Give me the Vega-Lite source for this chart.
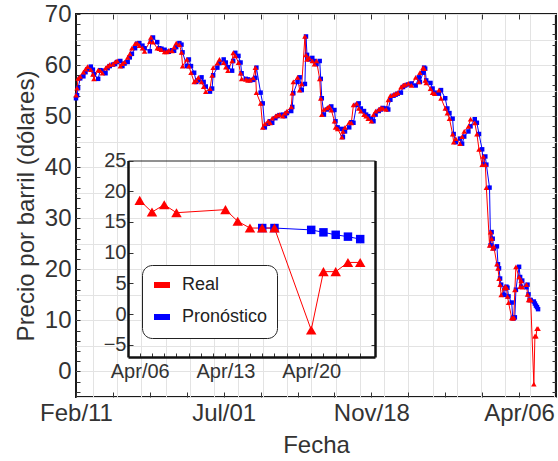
{
"$schema": "https://vega.github.io/schema/vega-lite/v6.json",
"width": 480, "height": 383,
"autosize": "none",
"padding": {"left": 76, "top": 14, "right": 2, "bottom": 64},
"background": "white",
"config": {
 "view": {"stroke": "#1a1a1a", "strokeWidth": 2},
 "font": "Liberation Sans",
 "axis": {"labelFont": "Liberation Sans", "titleFont": "Liberation Sans", "labelColor": "#333333", "titleColor": "#333333", "titleFontWeight": "normal", "tickColor": "#333333", "domainColor": "#1a1a1a", "gridColor": "#e3e3e3", "gridWidth": 1, "labelOverlap": false, "labelBound": false, "labelFlush": false}
},
"datasets": {
 "real": [
  {"fecha":"2019-02-11","precio":54.1},{"fecha":"2019-02-12","precio":55.5},{"fecha":"2019-02-13","precio":57.4},{"fecha":"2019-02-15","precio":57.8},{"fecha":"2019-02-18","precio":58.6},{"fecha":"2019-02-20","precio":59.2},{"fecha":"2019-02-22","precio":59.7},{"fecha":"2019-02-25","precio":59.1},{"fecha":"2019-02-27","precio":58.2},{"fecha":"2019-02-28","precio":57.3},
  {"fecha":"2019-03-04","precio":59.0},{"fecha":"2019-03-06","precio":58.9},{"fecha":"2019-03-08","precio":58.4},{"fecha":"2019-03-11","precio":59.4},{"fecha":"2019-03-13","precio":59.8},{"fecha":"2019-03-15","precio":60.1},{"fecha":"2019-03-18","precio":60.2},{"fecha":"2019-03-20","precio":60.6},{"fecha":"2019-03-22","precio":60.8},{"fecha":"2019-03-25","precio":59.8},{"fecha":"2019-03-27","precio":60.3},{"fecha":"2019-03-29","precio":60.6},
  {"fecha":"2019-04-01","precio":61.5},{"fecha":"2019-04-03","precio":62.2},{"fecha":"2019-04-05","precio":63.3},{"fecha":"2019-04-08","precio":64.2},{"fecha":"2019-04-10","precio":64.3},{"fecha":"2019-04-12","precio":63.8},{"fecha":"2019-04-15","precio":63.3},{"fecha":"2019-04-17","precio":62.7},{"fecha":"2019-04-22","precio":64.6},{"fecha":"2019-04-23","precio":65.4},{"fecha":"2019-04-25","precio":64.5},{"fecha":"2019-04-29","precio":63.3},
  {"fecha":"2019-05-01","precio":63.2},{"fecha":"2019-05-03","precio":63.0},{"fecha":"2019-05-06","precio":62.6},{"fecha":"2019-05-08","precio":62.6},{"fecha":"2019-05-10","precio":62.9},{"fecha":"2019-05-13","precio":62.8},{"fecha":"2019-05-15","precio":63.5},{"fecha":"2019-05-17","precio":64.3},{"fecha":"2019-05-20","precio":64.0},{"fecha":"2019-05-22","precio":62.5},{"fecha":"2019-05-23","precio":59.8},{"fecha":"2019-05-27","precio":61.1},{"fecha":"2019-05-29","precio":59.8},{"fecha":"2019-05-31","precio":58.5},
  {"fecha":"2019-06-03","precio":56.7},{"fecha":"2019-06-05","precio":57.0},{"fecha":"2019-06-07","precio":57.6},{"fecha":"2019-06-10","precio":56.7},{"fecha":"2019-06-12","precio":55.8},{"fecha":"2019-06-14","precio":54.8},{"fecha":"2019-06-18","precio":55.4},{"fecha":"2019-06-20","precio":58.0},{"fecha":"2019-06-21","precio":59.5},{"fecha":"2019-06-25","precio":60.4},{"fecha":"2019-06-27","precio":61.1},
  {"fecha":"2019-07-01","precio":60.5},{"fecha":"2019-07-03","precio":59.6},{"fecha":"2019-07-05","precio":58.9},{"fecha":"2019-07-09","precio":60.8},{"fecha":"2019-07-10","precio":62.4},{"fecha":"2019-07-12","precio":61.8},{"fecha":"2019-07-15","precio":60.5},{"fecha":"2019-07-17","precio":58.4},{"fecha":"2019-07-18","precio":57.3},{"fecha":"2019-07-22","precio":57.2},{"fecha":"2019-07-24","precio":57.0},{"fecha":"2019-07-26","precio":57.1},{"fecha":"2019-07-29","precio":57.5},{"fecha":"2019-07-31","precio":59.5},
  {"fecha":"2019-08-01","precio":54.6},{"fecha":"2019-08-05","precio":52.5},{"fecha":"2019-08-07","precio":47.8},{"fecha":"2019-08-09","precio":48.5},{"fecha":"2019-08-12","precio":49.0},{"fecha":"2019-08-14","precio":48.7},{"fecha":"2019-08-16","precio":49.6},{"fecha":"2019-08-19","precio":50.0},{"fecha":"2019-08-21","precio":50.2},{"fecha":"2019-08-23","precio":50.3},{"fecha":"2019-08-26","precio":50.0},{"fecha":"2019-08-28","precio":50.6},{"fecha":"2019-08-30","precio":51.0},
  {"fecha":"2019-09-03","precio":51.8},{"fecha":"2019-09-04","precio":54.5},{"fecha":"2019-09-05","precio":56.7},{"fecha":"2019-09-09","precio":57.6},{"fecha":"2019-09-11","precio":55.1},{"fecha":"2019-09-13","precio":56.3},{"fecha":"2019-09-16","precio":65.6},{"fecha":"2019-09-17","precio":62.0},{"fecha":"2019-09-18","precio":61.1},{"fecha":"2019-09-20","precio":61.4},{"fecha":"2019-09-23","precio":60.8},{"fecha":"2019-09-25","precio":60.2},{"fecha":"2019-09-27","precio":60.8},{"fecha":"2019-09-30","precio":57.3},
  {"fecha":"2019-10-01","precio":53.5},{"fecha":"2019-10-02","precio":50.3},{"fecha":"2019-10-04","precio":51.3},{"fecha":"2019-10-07","precio":51.6},{"fecha":"2019-10-09","precio":51.9},{"fecha":"2019-10-11","precio":51.2},{"fecha":"2019-10-14","precio":49.0},{"fecha":"2019-10-15","precio":47.8},{"fecha":"2019-10-17","precio":47.5},{"fecha":"2019-10-21","precio":45.9},{"fecha":"2019-10-22","precio":47.0},{"fecha":"2019-10-24","precio":47.8},{"fecha":"2019-10-28","precio":48.8},{"fecha":"2019-10-30","precio":48.7},
  {"fecha":"2019-11-01","precio":52.2},{"fecha":"2019-11-04","precio":52.5},{"fecha":"2019-11-06","precio":51.5},{"fecha":"2019-11-08","precio":51.0},{"fecha":"2019-11-11","precio":50.3},{"fecha":"2019-11-13","precio":50.0},{"fecha":"2019-11-15","precio":49.5},{"fecha":"2019-11-18","precio":49.0},{"fecha":"2019-11-20","precio":50.3},{"fecha":"2019-11-22","precio":51.0},{"fecha":"2019-11-25","precio":51.3},{"fecha":"2019-11-27","precio":51.6},{"fecha":"2019-11-29","precio":51.5},
  {"fecha":"2019-12-02","precio":51.3},{"fecha":"2019-12-04","precio":53.2},{"fecha":"2019-12-06","precio":54.0},{"fecha":"2019-12-09","precio":54.2},{"fecha":"2019-12-11","precio":54.4},{"fecha":"2019-12-13","precio":54.6},{"fecha":"2019-12-16","precio":55.7},{"fecha":"2019-12-18","precio":56.0},{"fecha":"2019-12-20","precio":56.2},{"fecha":"2019-12-23","precio":56.4},{"fecha":"2019-12-26","precio":56.0},{"fecha":"2019-12-30","precio":57.6},
  {"fecha":"2020-01-02","precio":56.7},{"fecha":"2020-01-03","precio":58.5},{"fecha":"2020-01-06","precio":59.5},{"fecha":"2020-01-07","precio":59.3},{"fecha":"2020-01-08","precio":57.0},{"fecha":"2020-01-09","precio":56.5},{"fecha":"2020-01-13","precio":55.4},{"fecha":"2020-01-15","precio":54.6},{"fecha":"2020-01-17","precio":54.4},{"fecha":"2020-01-21","precio":55.1},{"fecha":"2020-01-23","precio":53.5},{"fecha":"2020-01-27","precio":51.5},{"fecha":"2020-01-29","precio":50.6},{"fecha":"2020-01-31","precio":49.5},
  {"fecha":"2020-02-03","precio":46.5},{"fecha":"2020-02-04","precio":44.9},{"fecha":"2020-02-06","precio":45.6},{"fecha":"2020-02-10","precio":44.6},{"fecha":"2020-02-12","precio":46.0},{"fecha":"2020-02-14","precio":47.0},{"fecha":"2020-02-18","precio":48.0},{"fecha":"2020-02-20","precio":49.4},{"fecha":"2020-02-24","precio":48.7},{"fecha":"2020-02-26","precio":46.5},{"fecha":"2020-02-28","precio":43.5},
  {"fecha":"2020-03-02","precio":40.5},{"fecha":"2020-03-03","precio":42.1},{"fecha":"2020-03-05","precio":40.5},{"fecha":"2020-03-06","precio":36.0},{"fecha":"2020-03-09","precio":24.7},{"fecha":"2020-03-10","precio":27.3},{"fecha":"2020-03-11","precio":26.0},{"fecha":"2020-03-12","precio":24.1},{"fecha":"2020-03-13","precio":24.5},{"fecha":"2020-03-16","precio":21.0},{"fecha":"2020-03-17","precio":20.2},{"fecha":"2020-03-18","precio":18.2},{"fecha":"2020-03-19","precio":17.0},{"fecha":"2020-03-20","precio":15.0},{"fecha":"2020-03-23","precio":16.3},{"fecha":"2020-03-24","precio":16.6},{"fecha":"2020-03-25","precio":16.4},{"fecha":"2020-03-26","precio":14.7},{"fecha":"2020-03-27","precio":13.5},{"fecha":"2020-03-30","precio":10.5},{"fecha":"2020-03-31","precio":10.4},
  {"fecha":"2020-04-01","precio":10.6},{"fecha":"2020-04-02","precio":16.0},{"fecha":"2020-04-03","precio":20.5},{"fecha":"2020-04-06","precio":18.5},{"fecha":"2020-04-07","precio":16.6},{"fecha":"2020-04-08","precio":17.8},{"fecha":"2020-04-09","precio":16.5},{"fecha":"2020-04-13","precio":17.0},{"fecha":"2020-04-14","precio":15.1},{"fecha":"2020-04-15","precio":14.0},{"fecha":"2020-04-16","precio":14.0},{"fecha":"2020-04-17","precio":14.0},{"fecha":"2020-04-20","precio":-2.5},{"fecha":"2020-04-21","precio":6.9},{"fecha":"2020-04-22","precio":6.9},{"fecha":"2020-04-23","precio":8.4},{"fecha":"2020-04-24","precio":8.4}
 ],
 "pron": [
  {"fecha":"2019-02-11","precio":53.5},{"fecha":"2019-02-12","precio":54.1},{"fecha":"2019-02-13","precio":55.5},{"fecha":"2019-02-15","precio":57.4},{"fecha":"2019-02-18","precio":57.8},{"fecha":"2019-02-20","precio":58.6},{"fecha":"2019-02-22","precio":59.2},{"fecha":"2019-02-25","precio":59.7},{"fecha":"2019-02-27","precio":59.1},{"fecha":"2019-02-28","precio":58.2},
  {"fecha":"2019-03-04","precio":57.3},{"fecha":"2019-03-06","precio":59.0},{"fecha":"2019-03-08","precio":58.9},{"fecha":"2019-03-11","precio":58.4},{"fecha":"2019-03-13","precio":59.4},{"fecha":"2019-03-15","precio":59.8},{"fecha":"2019-03-18","precio":60.1},{"fecha":"2019-03-20","precio":60.2},{"fecha":"2019-03-22","precio":60.6},{"fecha":"2019-03-25","precio":60.8},{"fecha":"2019-03-27","precio":59.8},{"fecha":"2019-03-29","precio":60.3},
  {"fecha":"2019-04-01","precio":60.6},{"fecha":"2019-04-03","precio":61.5},{"fecha":"2019-04-05","precio":62.2},{"fecha":"2019-04-08","precio":63.3},{"fecha":"2019-04-10","precio":64.2},{"fecha":"2019-04-12","precio":64.3},{"fecha":"2019-04-15","precio":63.8},{"fecha":"2019-04-17","precio":63.3},{"fecha":"2019-04-22","precio":62.7},{"fecha":"2019-04-23","precio":64.6},{"fecha":"2019-04-25","precio":65.4},{"fecha":"2019-04-29","precio":64.5},
  {"fecha":"2019-05-01","precio":63.3},{"fecha":"2019-05-03","precio":63.2},{"fecha":"2019-05-06","precio":63.0},{"fecha":"2019-05-08","precio":62.6},{"fecha":"2019-05-10","precio":62.6},{"fecha":"2019-05-13","precio":62.9},{"fecha":"2019-05-15","precio":62.8},{"fecha":"2019-05-17","precio":63.5},{"fecha":"2019-05-20","precio":64.3},{"fecha":"2019-05-22","precio":64.0},{"fecha":"2019-05-23","precio":62.5},{"fecha":"2019-05-27","precio":59.8},{"fecha":"2019-05-29","precio":61.1},{"fecha":"2019-05-31","precio":59.8},
  {"fecha":"2019-06-03","precio":58.5},{"fecha":"2019-06-05","precio":56.7},{"fecha":"2019-06-07","precio":57.0},{"fecha":"2019-06-10","precio":57.6},{"fecha":"2019-06-12","precio":56.7},{"fecha":"2019-06-14","precio":55.8},{"fecha":"2019-06-18","precio":54.8},{"fecha":"2019-06-20","precio":55.4},{"fecha":"2019-06-21","precio":58.0},{"fecha":"2019-06-25","precio":59.5},{"fecha":"2019-06-27","precio":60.4},
  {"fecha":"2019-07-01","precio":61.1},{"fecha":"2019-07-03","precio":60.5},{"fecha":"2019-07-05","precio":59.6},{"fecha":"2019-07-09","precio":58.9},{"fecha":"2019-07-10","precio":60.8},{"fecha":"2019-07-12","precio":62.4},{"fecha":"2019-07-15","precio":61.8},{"fecha":"2019-07-17","precio":60.5},{"fecha":"2019-07-18","precio":58.4},{"fecha":"2019-07-22","precio":57.3},{"fecha":"2019-07-24","precio":57.2},{"fecha":"2019-07-26","precio":57.0},{"fecha":"2019-07-29","precio":57.1},{"fecha":"2019-07-31","precio":57.5},
  {"fecha":"2019-08-01","precio":59.5},{"fecha":"2019-08-05","precio":54.6},{"fecha":"2019-08-07","precio":52.5},{"fecha":"2019-08-09","precio":47.8},{"fecha":"2019-08-12","precio":48.5},{"fecha":"2019-08-14","precio":49.0},{"fecha":"2019-08-16","precio":48.7},{"fecha":"2019-08-19","precio":49.6},{"fecha":"2019-08-21","precio":50.0},{"fecha":"2019-08-23","precio":50.2},{"fecha":"2019-08-26","precio":50.3},{"fecha":"2019-08-28","precio":50.0},{"fecha":"2019-08-30","precio":50.6},
  {"fecha":"2019-09-03","precio":51.0},{"fecha":"2019-09-04","precio":51.8},{"fecha":"2019-09-05","precio":54.5},{"fecha":"2019-09-09","precio":56.7},{"fecha":"2019-09-11","precio":57.6},{"fecha":"2019-09-13","precio":55.1},{"fecha":"2019-09-16","precio":56.3},{"fecha":"2019-09-17","precio":65.6},{"fecha":"2019-09-18","precio":62.0},{"fecha":"2019-09-20","precio":61.1},{"fecha":"2019-09-23","precio":61.4},{"fecha":"2019-09-25","precio":60.8},{"fecha":"2019-09-27","precio":60.2},{"fecha":"2019-09-30","precio":60.8},
  {"fecha":"2019-10-01","precio":57.3},{"fecha":"2019-10-02","precio":53.5},{"fecha":"2019-10-04","precio":50.3},{"fecha":"2019-10-07","precio":51.3},{"fecha":"2019-10-09","precio":51.6},{"fecha":"2019-10-11","precio":51.9},{"fecha":"2019-10-14","precio":51.2},{"fecha":"2019-10-15","precio":49.0},{"fecha":"2019-10-17","precio":47.8},{"fecha":"2019-10-21","precio":47.5},{"fecha":"2019-10-22","precio":45.9},{"fecha":"2019-10-24","precio":47.0},{"fecha":"2019-10-28","precio":47.8},{"fecha":"2019-10-30","precio":48.8},
  {"fecha":"2019-11-01","precio":48.7},{"fecha":"2019-11-04","precio":52.2},{"fecha":"2019-11-06","precio":52.5},{"fecha":"2019-11-08","precio":51.5},{"fecha":"2019-11-11","precio":51.0},{"fecha":"2019-11-13","precio":50.3},{"fecha":"2019-11-15","precio":50.0},{"fecha":"2019-11-18","precio":49.5},{"fecha":"2019-11-20","precio":49.0},{"fecha":"2019-11-22","precio":50.3},{"fecha":"2019-11-25","precio":51.0},{"fecha":"2019-11-27","precio":51.3},{"fecha":"2019-11-29","precio":51.6},
  {"fecha":"2019-12-02","precio":51.5},{"fecha":"2019-12-04","precio":51.3},{"fecha":"2019-12-06","precio":53.2},{"fecha":"2019-12-09","precio":54.0},{"fecha":"2019-12-11","precio":54.2},{"fecha":"2019-12-13","precio":54.4},{"fecha":"2019-12-16","precio":54.6},{"fecha":"2019-12-18","precio":55.7},{"fecha":"2019-12-20","precio":56.0},{"fecha":"2019-12-23","precio":56.2},{"fecha":"2019-12-26","precio":56.4},{"fecha":"2019-12-30","precio":56.0},
  {"fecha":"2020-01-02","precio":57.6},{"fecha":"2020-01-03","precio":56.7},{"fecha":"2020-01-06","precio":58.5},{"fecha":"2020-01-07","precio":59.5},{"fecha":"2020-01-08","precio":59.3},{"fecha":"2020-01-09","precio":57.0},{"fecha":"2020-01-13","precio":56.5},{"fecha":"2020-01-15","precio":55.4},{"fecha":"2020-01-17","precio":54.6},{"fecha":"2020-01-21","precio":54.4},{"fecha":"2020-01-23","precio":55.1},{"fecha":"2020-01-27","precio":53.5},{"fecha":"2020-01-29","precio":51.5},{"fecha":"2020-01-31","precio":50.6},
  {"fecha":"2020-02-03","precio":49.5},{"fecha":"2020-02-04","precio":46.5},{"fecha":"2020-02-06","precio":44.9},{"fecha":"2020-02-10","precio":45.6},{"fecha":"2020-02-12","precio":44.6},{"fecha":"2020-02-14","precio":46.0},{"fecha":"2020-02-18","precio":47.0},{"fecha":"2020-02-20","precio":48.0},{"fecha":"2020-02-24","precio":49.4},{"fecha":"2020-02-26","precio":48.7},{"fecha":"2020-02-28","precio":46.5},
  {"fecha":"2020-03-02","precio":43.5},{"fecha":"2020-03-03","precio":40.5},{"fecha":"2020-03-05","precio":42.1},{"fecha":"2020-03-06","precio":40.5},{"fecha":"2020-03-09","precio":36.0},{"fecha":"2020-03-10","precio":24.7},{"fecha":"2020-03-11","precio":27.3},{"fecha":"2020-03-12","precio":26.0},{"fecha":"2020-03-13","precio":24.1},{"fecha":"2020-03-16","precio":24.5},{"fecha":"2020-03-17","precio":21.0},{"fecha":"2020-03-18","precio":20.2},{"fecha":"2020-03-19","precio":18.2},{"fecha":"2020-03-20","precio":17.0},{"fecha":"2020-03-23","precio":15.0},{"fecha":"2020-03-24","precio":16.3},{"fecha":"2020-03-25","precio":16.6},{"fecha":"2020-03-26","precio":16.4},{"fecha":"2020-03-27","precio":14.7},{"fecha":"2020-03-30","precio":13.5},{"fecha":"2020-03-31","precio":10.5},
  {"fecha":"2020-04-01","precio":10.4},{"fecha":"2020-04-02","precio":10.6},{"fecha":"2020-04-03","precio":16.0},{"fecha":"2020-04-06","precio":20.5},{"fecha":"2020-04-07","precio":18.5},{"fecha":"2020-04-08","precio":16.6},{"fecha":"2020-04-09","precio":17.8},{"fecha":"2020-04-13","precio":16.5},{"fecha":"2020-04-14","precio":17.0},{"fecha":"2020-04-15","precio":15.1},{"fecha":"2020-04-16","precio":14.0},{"fecha":"2020-04-17","precio":14.0},{"fecha":"2020-04-20","precio":13.7},{"fecha":"2020-04-21","precio":13.3},{"fecha":"2020-04-22","precio":12.9},{"fecha":"2020-04-23","precio":12.6},{"fecha":"2020-04-24","precio":12.2}
 ],
 "insetReal": [
  {"fecha":"2020-04-06","precio":18.5,"serie":"Real"},{"fecha":"2020-04-07","precio":16.6,"serie":"Real"},{"fecha":"2020-04-08","precio":17.8,"serie":"Real"},{"fecha":"2020-04-09","precio":16.5,"serie":"Real"},{"fecha":"2020-04-13","precio":17.0,"serie":"Real"},{"fecha":"2020-04-14","precio":15.1,"serie":"Real"},{"fecha":"2020-04-15","precio":14.0,"serie":"Real"},{"fecha":"2020-04-16","precio":14.0,"serie":"Real"},{"fecha":"2020-04-17","precio":14.0,"serie":"Real"},{"fecha":"2020-04-20","precio":-2.6,"serie":"Real"},{"fecha":"2020-04-21","precio":6.9,"serie":"Real"},{"fecha":"2020-04-22","precio":6.9,"serie":"Real"},{"fecha":"2020-04-23","precio":8.4,"serie":"Real"},{"fecha":"2020-04-24","precio":8.4,"serie":"Real"}
 ],
 "insetPron": [
  {"fecha":"2020-04-16","precio":14.0,"serie":"Pronóstico"},{"fecha":"2020-04-17","precio":14.0,"serie":"Pronóstico"},{"fecha":"2020-04-20","precio":13.7,"serie":"Pronóstico"},{"fecha":"2020-04-21","precio":13.3,"serie":"Pronóstico"},{"fecha":"2020-04-22","precio":12.9,"serie":"Pronóstico"},{"fecha":"2020-04-23","precio":12.6,"serie":"Pronóstico"},{"fecha":"2020-04-24","precio":12.2,"serie":"Pronóstico"}
 ]
},
"layer": [
 {
  "layer": [
   {"data": {"name": "pron"}, "mark": {"type": "line", "color": "#0000ff", "strokeWidth": 1},
    "encoding": {
     "x": {"field": "fecha", "type": "temporal", "scale": {"type": "utc", "nice": false, "domain": [{"year":2019,"month":2,"date":11,"utc":true},{"year":2020,"month":5,"date":11,"utc":true}]}, "axis": null},
     "y": {"field": "precio", "type": "quantitative", "scale": {"domain": [-5, 70], "nice": false, "zero": false}, "axis": null}}},
   {"data": {"name": "real"}, "mark": {"type": "line", "color": "#ff0000", "strokeWidth": 1},
    "encoding": {
     "x": {"field": "fecha", "type": "temporal", "scale": {"type": "utc", "nice": false, "domain": [{"year":2019,"month":2,"date":11,"utc":true},{"year":2020,"month":5,"date":11,"utc":true}]},
      "axis": {"orient": "bottom", "title": "Fecha", "titleFontSize": 24, "titlePadding": 8, "labelFontSize": 24, "labelPadding": 9, "tickSize": -5, "grid": false, "domain": false,
       "values": [{"year":2019,"month":2,"date":11,"utc":true},{"year":2019,"month":3,"date":18,"utc":true},{"year":2019,"month":4,"date":22,"utc":true},{"year":2019,"month":5,"date":27,"utc":true},{"year":2019,"month":7,"date":1,"utc":true},{"year":2019,"month":8,"date":5,"utc":true},{"year":2019,"month":9,"date":9,"utc":true},{"year":2019,"month":10,"date":14,"utc":true},{"year":2019,"month":11,"date":18,"utc":true},{"year":2019,"month":12,"date":23,"utc":true},{"year":2020,"month":1,"date":27,"utc":true},{"year":2020,"month":3,"date":2,"utc":true},{"year":2020,"month":4,"date":6,"utc":true}],
       "labelExpr": "indexof(['Feb/11','Jul/01','Nov/18','Apr/06'], utcFormat(datum.value, '%b/%d')) >= 0 ? utcFormat(datum.value, '%b/%d') : ''"}},
     "y": {"field": "precio", "type": "quantitative", "scale": {"domain": [-5, 70], "nice": false, "zero": false},
      "axis": {"orient": "left", "title": "Precio por barril (dólares)", "titleFontSize": 24, "titlePadding": 6, "labelFontSize": 24, "labelPadding": 9, "tickSize": -4, "domain": false, "grid": true,
       "values": [-5,-4,-2,0,2,4,5,6,8,10,12,14,15,16,18,20,22,24,25,26,28,30,32,34,35,36,38,40,42,44,45,46,48,50,52,54,55,56,58,60,62,64,65,66,68,70],
       "labelExpr": "datum.value % 10 == 0 ? datum.label : ''",
       "tickOpacity": {"condition": {"test": "datum.value % 2 == 0", "value": 1}, "value": 0},
       "gridOpacity": {"condition": {"test": "datum.value % 5 == 0", "value": 1}, "value": 0}}}}},
   {"data": {"name": "pron"}, "mark": {"type": "point", "shape": "square", "filled": true, "color": "#0000ff", "size": 20, "opacity": 1},
    "encoding": {
     "x": {"field": "fecha", "type": "temporal", "scale": {"type": "utc", "nice": false, "domain": [{"year":2019,"month":2,"date":11,"utc":true},{"year":2020,"month":5,"date":11,"utc":true}]},
      "axis": {"orient": "top", "title": null, "labels": false, "domain": false, "tickSize": -5, "grid": true,
       "values": [{"year":2019,"month":3,"date":18,"utc":true},{"year":2019,"month":4,"date":22,"utc":true},{"year":2019,"month":5,"date":27,"utc":true},{"year":2019,"month":7,"date":1,"utc":true},{"year":2019,"month":8,"date":5,"utc":true},{"year":2019,"month":9,"date":9,"utc":true},{"year":2019,"month":10,"date":14,"utc":true},{"year":2019,"month":11,"date":18,"utc":true},{"year":2019,"month":12,"date":23,"utc":true},{"year":2020,"month":1,"date":27,"utc":true},{"year":2020,"month":3,"date":2,"utc":true},{"year":2020,"month":4,"date":6,"utc":true},
        {"year":2019,"month":2,"date":27,"utc":true},{"year":2019,"month":3,"date":22,"utc":true},{"year":2019,"month":4,"date":14,"utc":true},{"year":2019,"month":5,"date":7,"utc":true},{"year":2019,"month":5,"date":30,"utc":true},{"year":2019,"month":6,"date":22,"utc":true},{"year":2019,"month":7,"date":15,"utc":true},{"year":2019,"month":8,"date":7,"utc":true},{"year":2019,"month":8,"date":30,"utc":true},{"year":2019,"month":9,"date":22,"utc":true},{"year":2019,"month":10,"date":15,"utc":true},{"year":2019,"month":11,"date":7,"utc":true},{"year":2019,"month":11,"date":30,"utc":true},{"year":2020,"month":1,"date":15,"utc":true},{"year":2020,"month":2,"date":7,"utc":true},{"year":2020,"month":3,"date":1,"utc":true},{"year":2020,"month":3,"date":24,"utc":true},{"year":2020,"month":4,"date":16,"utc":true},{"year":2020,"month":5,"date":9,"utc":true}],
       "tickOpacity": {"condition": {"test": "indexof(['2019-03-18','2019-04-22','2019-05-27','2019-07-01','2019-08-05','2019-09-09','2019-10-14','2019-11-18','2019-12-23','2020-01-27','2020-03-02','2020-04-06'], utcFormat(datum.value, '%Y-%m-%d')) >= 0", "value": 1}, "value": 0},
       "gridOpacity": {"condition": {"test": "indexof(['2019-02-27','2019-03-22','2019-04-14','2019-05-07','2019-05-30','2019-06-22','2019-07-15','2019-08-07','2019-08-30','2019-09-22','2019-10-15','2019-11-07','2019-11-30','2019-12-23','2020-01-15','2020-02-07','2020-03-01','2020-03-24','2020-04-16','2020-05-09'], utcFormat(datum.value, '%Y-%m-%d')) >= 0", "value": 1}, "value": 0}}},
     "y": {"field": "precio", "type": "quantitative", "scale": {"domain": [-5, 70], "nice": false, "zero": false},
      "axis": {"orient": "right", "title": null, "labels": false, "domain": false, "grid": false, "tickSize": -4,
       "values": [-4,-2,0,2,4,6,8,10,12,14,16,18,20,22,24,26,28,30,32,34,36,38,40,42,44,46,48,50,52,54,56,58,60,62,64,66,68]}}}},
   {"data": {"name": "real"}, "mark": {"type": "point", "shape": "triangle-up", "filled": true, "color": "#ff0000", "size": 30, "opacity": 1},
    "encoding": {
     "x": {"field": "fecha", "type": "temporal", "scale": {"type": "utc", "nice": false, "domain": [{"year":2019,"month":2,"date":11,"utc":true},{"year":2020,"month":5,"date":11,"utc":true}]}, "axis": null},
     "y": {"field": "precio", "type": "quantitative", "scale": {"domain": [-5, 70], "nice": false, "zero": false}, "axis": null}}}
  ]
 },
 {
  "layer": [
   {"data": {"name": "insetPron"}, "mark": {"type": "line", "strokeWidth": 1},
    "encoding": {
     "x": {"field": "fecha", "type": "temporal", "scale": {"type": "utc", "nice": false, "range": [52, 299], "domain": [{"year":2020,"month":4,"date":5,"hours":1,"utc":true},{"year":2020,"month":4,"date":25,"hours":5,"utc":true}]},
      "axis": {"orient": "top", "offset": -146.5, "title": null, "labels": false, "ticks": false, "grid": false, "domain": true, "domainWidth": 1, "domainColor": "#222222"}},
     "y": {"field": "precio", "type": "quantitative", "scale": {"domain": [-7, 25], "range": [343, 146.5], "nice": false, "zero": false},
      "axis": {"orient": "right", "offset": -181, "title": null, "labels": false, "grid": false, "domain": true, "domainWidth": 2.5, "domainColor": "#111111", "tickSize": -4, "values": [-5,0,5,10,15,20]}},
     "color": {"field": "serie", "type": "nominal", "scale": {"domain": ["Real", "Pronóstico"], "range": ["#ff0000", "#0000ff"]},
      "legend": {"title": null, "orient": "none", "legendX": 66, "legendY": 251, "fillColor": "white", "strokeColor": "#222222", "cornerRadius": 10, "padding": 9, "labelFontSize": 18, "labelFont": "Liberation Sans", "labelColor": "#222222", "symbolType": "stroke", "symbolStrokeWidth": 6, "symbolSize": 256, "rowPadding": 8, "labelOffset": 9}}}},
   {"data": {"name": "insetReal"}, "mark": {"type": "line", "strokeWidth": 1},
    "encoding": {
     "x": {"field": "fecha", "type": "temporal", "scale": {"type": "utc", "nice": false, "range": [52, 299], "domain": [{"year":2020,"month":4,"date":5,"hours":1,"utc":true},{"year":2020,"month":4,"date":25,"hours":5,"utc":true}]},
      "axis": {"orient": "bottom", "offset": -40, "title": null, "grid": false, "domain": true, "domainWidth": 2.5, "domainColor": "#111111", "tickSize": -4, "labelFontSize": 20, "labelPadding": 8,
       "values": [{"year":2020,"month":4,"date":6,"utc":true},{"year":2020,"month":4,"date":7,"utc":true},{"year":2020,"month":4,"date":8,"utc":true},{"year":2020,"month":4,"date":9,"utc":true},{"year":2020,"month":4,"date":10,"utc":true},{"year":2020,"month":4,"date":11,"utc":true},{"year":2020,"month":4,"date":12,"utc":true},{"year":2020,"month":4,"date":13,"utc":true},{"year":2020,"month":4,"date":14,"utc":true},{"year":2020,"month":4,"date":15,"utc":true},{"year":2020,"month":4,"date":16,"utc":true},{"year":2020,"month":4,"date":17,"utc":true},{"year":2020,"month":4,"date":18,"utc":true},{"year":2020,"month":4,"date":19,"utc":true},{"year":2020,"month":4,"date":20,"utc":true},{"year":2020,"month":4,"date":21,"utc":true},{"year":2020,"month":4,"date":22,"utc":true},{"year":2020,"month":4,"date":23,"utc":true},{"year":2020,"month":4,"date":24,"utc":true}],
       "labelExpr": "indexof(['Apr/06','Apr/13','Apr/20'], utcFormat(datum.value, '%b/%d')) >= 0 ? utcFormat(datum.value, '%b/%d') : ''"}},
     "y": {"field": "precio", "type": "quantitative", "scale": {"domain": [-7, 25], "range": [343, 146.5], "nice": false, "zero": false},
      "axis": {"orient": "left", "offset": -52, "title": null, "grid": false, "domain": true, "domainWidth": 2.5, "domainColor": "#111111", "tickSize": -5, "labelFontSize": 20, "labelPadding": 7, "values": [-5,0,5,10,15,20,25]}},
     "color": {"field": "serie", "type": "nominal", "scale": {"domain": ["Real", "Pronóstico"], "range": ["#ff0000", "#0000ff"]},
      "legend": {"title": null, "orient": "none", "legendX": 66, "legendY": 251, "fillColor": "white", "strokeColor": "#222222", "cornerRadius": 10, "padding": 9, "labelFontSize": 18, "labelFont": "Liberation Sans", "labelColor": "#222222", "symbolType": "stroke", "symbolStrokeWidth": 6, "symbolSize": 256, "rowPadding": 8, "labelOffset": 9}}}},
   {"data": {"name": "insetPron"}, "mark": {"type": "point", "shape": "square", "filled": true, "color": "#0000ff", "size": 72, "opacity": 1},
    "encoding": {
     "x": {"field": "fecha", "type": "temporal", "scale": {"type": "utc", "nice": false, "range": [52, 299], "domain": [{"year":2020,"month":4,"date":5,"hours":1,"utc":true},{"year":2020,"month":4,"date":25,"hours":5,"utc":true}]}, "axis": null},
     "y": {"field": "precio", "type": "quantitative", "scale": {"domain": [-7, 25], "range": [343, 146.5], "nice": false, "zero": false}, "axis": null}}},
   {"data": {"name": "insetReal"}, "mark": {"type": "point", "shape": "triangle-up", "filled": true, "color": "#ff0000", "size": 110, "opacity": 1},
    "encoding": {
     "x": {"field": "fecha", "type": "temporal", "scale": {"type": "utc", "nice": false, "range": [52, 299], "domain": [{"year":2020,"month":4,"date":5,"hours":1,"utc":true},{"year":2020,"month":4,"date":25,"hours":5,"utc":true}]}, "axis": null},
     "y": {"field": "precio", "type": "quantitative", "scale": {"domain": [-7, 25], "range": [343, 146.5], "nice": false, "zero": false}, "axis": null}}}
  ]
 }
],
"resolve": {"scale": {"x": "independent", "y": "independent"}}
}
